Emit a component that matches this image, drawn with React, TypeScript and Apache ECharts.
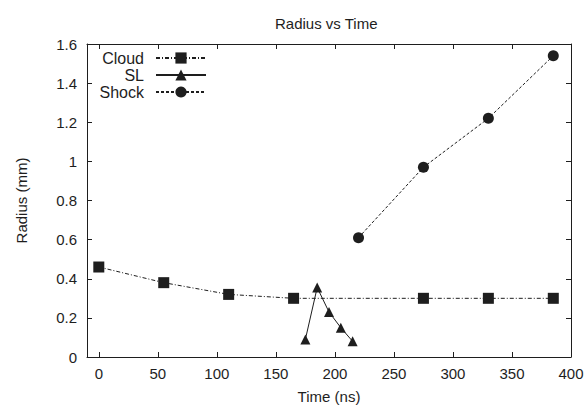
import React, { useEffect, useRef } from "react";
import * as echarts from "echarts";

const cloudTime = [0, 55, 110, 165, 275, 330, 385];
const cloudRadius = [0.46, 0.38, 0.32, 0.3, 0.3, 0.3, 0.3];
const slTime = [175, 185, 195, 205, 215];
const slRadius = [0.09, 0.355, 0.23, 0.15, 0.08];
const shockTime = [220, 275, 330, 385];
const shockRadius = [0.61, 0.97, 1.22, 1.54];
const seriesNames = ["Cloud", "SL", "Shock"];

const FONT = "'Liberation Sans', Arial, Helvetica, sans-serif";
const INK = "#1e1e1e";

export default function App() {
  const ref = useRef<HTMLDivElement>(null);
  useEffect(() => {
    if (!ref.current) return;
    const chart = echarts.init(ref.current, undefined, { renderer: "svg" });
    const zip = (xs: number[], ys: number[]) => xs.map((x, i) => [x, ys[i]]);
    const axisCommon = {
      axisLine: { show: true, onZero: false, lineStyle: { color: INK, width: 1 } },
      axisTick: { show: true, inside: true, length: 5, lineStyle: { color: INK } },
      splitLine: { show: false },
    };
    const xBase = { type: "value", min: -10, max: 400, minInterval: 50, maxInterval: 50 };
    const yBase = { type: "value", min: 0, max: 1.6, interval: 0.2 };
    chart.setOption({
      animation: false,
      backgroundColor: "#fff",
      textStyle: { fontFamily: FONT },
      title: {
        text: "Radius vs Time",
        left: 270,
        top: 11,
        textStyle: { fontSize: 15, fontWeight: "normal", color: INK, fontFamily: FONT },
      },
      grid: { left: 87, right: 17, top: 44, bottom: 50, outerBoundsMode: "none", containLabel: false },
      legend: seriesNames.map((n, i) => ({
        data: [n],
        right: 376,
        top: 45 + i * 17,
        orient: "vertical",
        align: "right",
        itemWidth: 50,
        itemHeight: 14,
        textStyle: { fontSize: 16, color: INK, fontFamily: FONT, padding: [0, 7, 0, 0] },
      })),
      xAxis: [
        {
          ...xBase,
          ...axisCommon,
          position: "bottom",
          name: "Time (ns)",
          nameLocation: "middle",
          nameGap: 32,
          nameTextStyle: { fontSize: 15, color: INK, fontFamily: FONT },
          axisLabel: {
            fontSize: 15,
            color: INK,
            margin: 9,
            fontFamily: FONT,
            formatter: (v: number) => (v < 0 ? "" : String(v)),
          },
        },
        {
          ...xBase,
          ...axisCommon,
          position: "top",
          axisLabel: { show: false },
        },
      ],
      yAxis: [
        {
          ...yBase,
          ...axisCommon,
          position: "left",
          name: "Radius (mm)",
          nameLocation: "middle",
          nameGap: 58,
          nameTextStyle: { fontSize: 15, color: INK, fontFamily: FONT },
          axisLabel: { fontSize: 15, color: INK, margin: 10, fontFamily: FONT },
        },
        {
          ...yBase,
          ...axisCommon,
          position: "right",
          axisLabel: { show: false },
        },
      ],
      series: [
        {
          name: "Cloud",
          type: "line",
          data: zip(cloudTime, cloudRadius),
          symbol: "rect",
          symbolSize: 11,
          itemStyle: { color: INK },
          lineStyle: { color: INK, width: 1, type: [4, 2, 1, 2] },
        },
        {
          name: "SL",
          type: "line",
          data: zip(slTime, slRadius),
          symbol: "triangle",
          symbolSize: 10,
          itemStyle: { color: INK },
          lineStyle: { color: INK, width: 1, type: "solid" },
        },
        {
          name: "Shock",
          type: "line",
          data: zip(shockTime, shockRadius),
          symbol: "circle",
          symbolSize: 11,
          itemStyle: { color: INK },
          lineStyle: { color: INK, width: 1, type: [3, 2] },
        },
      ],
    });
    return () => chart.dispose();
  }, []);
  return <div ref={ref} style={{ width: 588, height: 407, position: "fixed", left: 0, top: 0 }} />;
}
